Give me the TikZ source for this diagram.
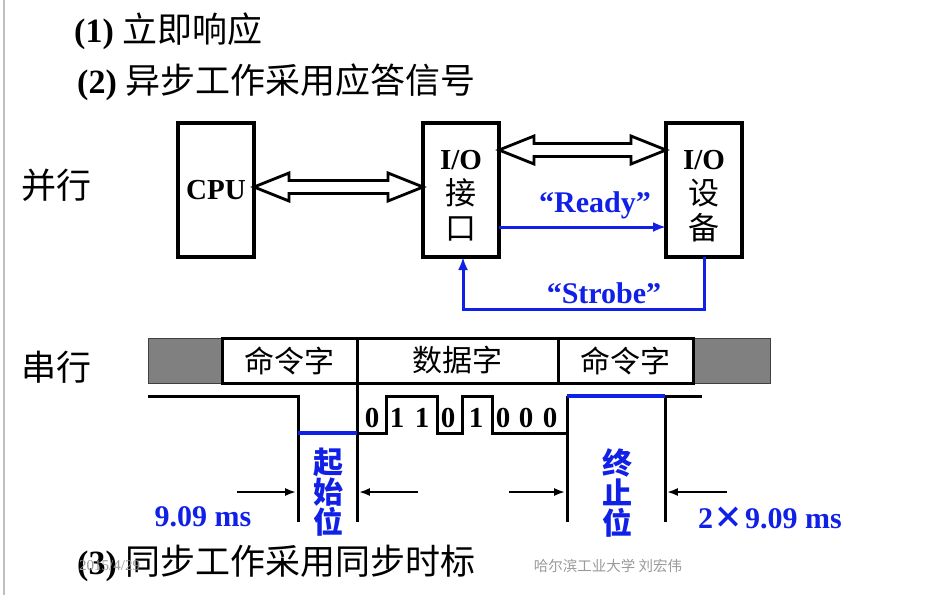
\documentclass[tikz,border=0pt]{standalone}
\usepackage{fontspec}
\setmainfont{Liberation Serif}
\newfontfamily\cjk{Noto Sans CJK SC}
\usetikzlibrary{calc}
\usetikzlibrary{arrows.meta}
\definecolor{sigblue}{RGB}{16,32,230}

\newcommand{\sz}[1]{\fontsize{#1pt}{1.15\dimexpr#1pt\relax}\selectfont}

% hollow two-headed bus arrow between two points of equal height
\newcommand{\busarrow}[2]{%
  \draw[bus] let \p1=(#1), \p2=(#2) in
    (\p1) -- (\x1+35pt,\y1+14pt) -- (\x1+35pt,\y1+6.5pt) -- (\x2-35pt,\y1+6.5pt)
    -- (\x2-35pt,\y1+14pt) -- (\p2) -- (\x2-35pt,\y1-14pt) -- (\x2-35pt,\y1-6.5pt)
    -- (\x1+35pt,\y1-6.5pt) -- (\x1+35pt,\y1-14pt) -- cycle;}

\tikzset{
  box/.style={draw, line width=3.4pt, minimum width=76pt, minimum height=134pt,
    inner sep=0pt, outer sep=0pt},
  boxtext/.style={align=center, inner sep=0pt, font=\fontsize{29pt}{35pt}\selectfont\bfseries},
  cell/.style={draw, line width=3pt, minimum height=45pt, inner sep=0pt,
    outer sep=0pt, font=\cjk\sz{30}},
  graycell/.style={draw=black!75, line width=1pt, fill=gray, minimum height=45pt,
    inner sep=0pt, outer sep=0pt},
  bus/.style={line width=2.8pt, fill=white, line join=miter},
  sigline/.style={draw=sigblue, line width=3pt, -{Latex[length=13pt,width=10pt]}},
  wave/.style={line width=3pt},
  blueline/.style={draw=sigblue, line width=4.5pt},
  dim/.style={line width=2.8pt, -{Latex[length=11pt,width=8pt]}, shorten >=1.8pt},
  bit/.style={font=\sz{29}\bfseries, inner sep=0pt},
  vlabel/.style={text=sigblue, font=\cjk\bfseries\fontsize{30pt}{30pt}\selectfont,
    align=center, inner sep=0pt},
  bluetext/.style={text=sigblue, font=\sz{30}\bfseries, inner sep=0pt},
  heading/.style={anchor=west, inner sep=0pt, font=\sz{34}}
}

\begin{document}
\begin{tikzpicture}[x=1pt, y=-1pt]
\useasboundingbox (0,0) rectangle (944,595);
\draw[black!25, line width=2pt] (3.5,0) -- (3.5,595);

% headings
\node[heading] (h1) at (74,31) {\textbf{(1)}\hspace{9pt}{\cjk\sz{35}立即响应}};
\node[heading] (h2) at (77,82) {\textbf{(2)}\hspace{9pt}{\cjk\sz{35}异步工作采用应答信号}};
\node[heading] (h3) at (77,563) {\textbf{(3)}\hspace{9pt}{\cjk\sz{35}同步工作采用同步时标}};
\node[text=black!40, font=\sz{15}, anchor=west, inner sep=0pt] (date) at (79,566) {2015/4/29};
\node[text=black!40, font=\cjk\sz{14.5}, inner sep=0pt] (mark) at (608,566) {哈尔滨工业大学\ 刘宏伟};

\node[font=\cjk\sz{35}, inner sep=0pt] (par) at (56,185) {并行};
\node[font=\cjk\sz{35}, inner sep=0pt] (ser) at (56,367) {串行};

% parallel
\node[box] (cpu) at (216,190) {};
\node[box] (ioif) at (461,190) {};
\node[box] (iodev) at (704,190) {};
\node[boxtext] (cputext) at (cpu) {CPU};
\node[boxtext] (ioiftext) at (461,196) {I/O\\{\cjk\mdseries\sz{31}接}\\{\cjk\mdseries\sz{31}口}};
\node[boxtext] (iodevtext) at (704,196) {I/O\\{\cjk\mdseries\sz{31}设}\\{\cjk\mdseries\sz{31}备}};

\busarrow{[yshift=3pt]cpu.east}{[yshift=3pt]ioif.west}
\busarrow{[yshift=40pt]ioif.east}{[yshift=40pt]iodev.west}

\draw[sigline] ([yshift=-37pt]ioif.east) -- ([yshift=-37pt]iodev.west);
\node[bluetext] (ready) at (595,205) {``Ready''};
\draw[sigline] (iodev.south) -- ++(0,52) -| ([xshift=2pt]ioif.south);
\node[bluetext] (strobe) at (604,293) {``Strobe''};

% serial frame
\node[graycell, minimum width=74pt] (g1) at (185,360.5) {};
\node[graycell, minimum width=77pt] (g2) at (731.5,360.5) {};
\node[cell, minimum width=135pt] (cmd1) at (289.5,360.5) {命令字};
\node[cell, minimum width=201pt] (data) at (457.5,360.5) {数据字};
\node[cell, minimum width=135pt] (cmd2) at (625.5,360.5) {命令字};

\coordinate (t1) at (298,522);
\coordinate (t2) at (357,522);
\coordinate (t3) at (567,522);
\coordinate (t4) at (665,522);

\draw[wave, line join=miter] (148,396) -- (298,396) -- (t1);
\draw[wave] (cmd1.south east) -- (t2);
\draw[wave, line join=miter] (357,433) -- (386,433) -- (386,396) -- (437,396) -- (437,433)
  -- (462,433) -- (462,396) -- (492,396) -- (492,433) -- (567,433) -- (567,396);
\draw[wave] (567,396) -- (t3);
\draw[wave] (665,396) -- (t4);
\draw[wave] (665,396) -- (702,396);
\draw[blueline] (298,433) -- (357,433);
\draw[blueline] (567,396) -- (665,396);

\foreach \b/\x in {0/372,1/397,1/422,0/448,1/476,0/503,0/526,0/550}
  \node[bit] (bit\x) at (\x,418) {\b};

\node[vlabel] (startbit) at (328,492) {起\\始\\位};
\node[vlabel] (stopbit) at (617,493) {终\\止\\位};

\coordinate (w1) at (237,492);
\coordinate (w2) at (418,492);
\coordinate (w3) at (509,492);
\coordinate (w4) at (727,492);
\draw[dim] (w1) -- (w1 -| t1);
\draw[dim] (w2) -- (w2 -| t2);
\draw[dim] (w3) -- (w3 -| t3);
\draw[dim] (w4) -- (w4 -| t4);

\node[bluetext] (tbit) at (203,517) {9.09 ms};
\node[bluetext] (tstop) at (770,518) {2{\cjk ×}\hspace{2pt}9.09 ms};
\end{tikzpicture}
\end{document}
